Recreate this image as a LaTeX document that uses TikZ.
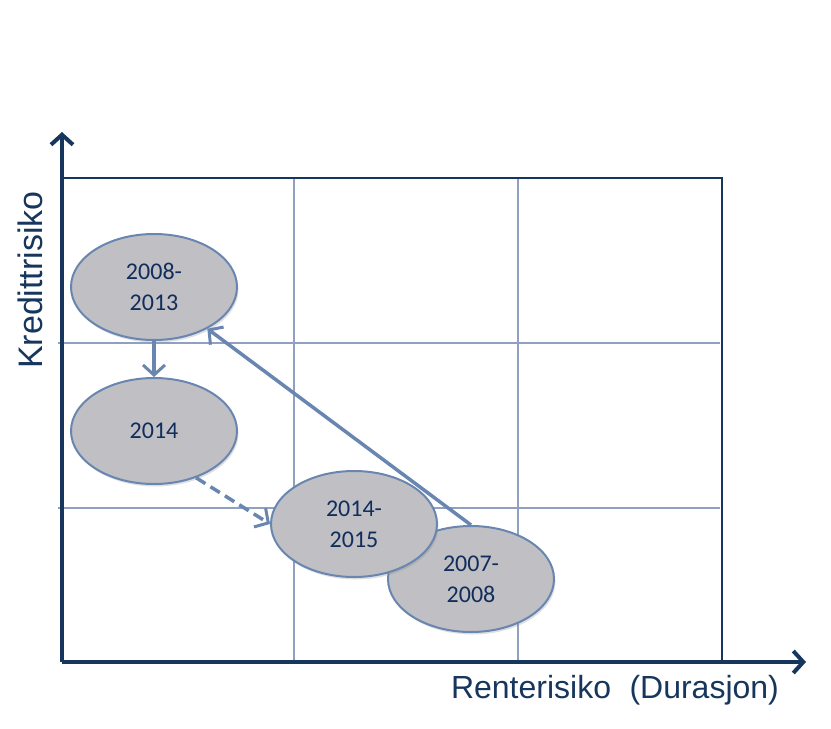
\documentclass[tikz,border=0pt]{standalone}
\usepackage{fontspec}
\setmainfont{Liberation Sans}
\newfontfamily\calfont{Carlito}
\usetikzlibrary{arrows.meta,shadows,shapes.geometric}
\definecolor{navy}{RGB}{23,54,93}
\definecolor{gridc}{RGB}{143,160,192}
\definecolor{ellb}{RGB}{104,134,176}
\definecolor{ellf}{RGB}{192,192,196}
\definecolor{txtc}{RGB}{16,45,92}
\tikzset{
  axis/.style={draw=navy, line width=4.5pt, -{Straight Barb[length=10pt,width=22pt,line width=4pt]}},
  frameline/.style={draw=navy, line width=2.2pt},
  gridline/.style={draw=gridc, line width=2pt},
  period/.style={ellipse, draw=ellb, fill=ellf, line width=2pt, minimum width=166pt, minimum height=106pt, inner sep=0pt,
     font=\calfont\fontsize{24}{31}\selectfont, text=txtc, align=center,
     drop shadow={shadow xshift=1.5pt, shadow yshift=-2.5pt, opacity=0.25, fill=gray}},
  conn/.style={draw=ellb, line width=3.5pt, -{Straight Barb[length=10pt,width=22pt,line width=3pt]}},
  axlabel/.style={text=navy}
}
\begin{document}
\begin{tikzpicture}[x=1pt,y=-1pt]
\useasboundingbox (0,0) rectangle (831,729);
% grid
\draw[gridline] (58,343) -- (720,343);
\draw[gridline] (58,508) -- (720,508);
\draw[gridline] (294,178) -- (294,662);
\draw[gridline] (518,178) -- (518,662);
\draw[frameline] (62,178) -- (722,178) -- (722,662);
% axes
\coordinate (O) at (62,662);
\coordinate (ytip) at (62,132);
\coordinate (xtip) at (806,662);
\draw[axis] (O) -- (ytip);
\draw[axis] (O) -- (xtip);
% labels
\node[axlabel, rotate=90, font=\fontsize{34}{38}\selectfont] (ylab) at (30,280) {Kredittrisiko};
\node[axlabel, font=\fontsize{32}{36}\selectfont] (xlab) at (615,690) {Renterisiko\hspace{0.3em} (Durasjon)};
% ellipses
\node[period] (e0708) at (471,579) {2007-\\2008};
\node[period] (e0813) at (154,287) {2008-\\2013};
\node[period] (e14) at (154,431) {2014};
\node[period] (e1415) at (354,524) {2014-\\2015};
% connectors
\draw[conn] (e0813.south) -- (e14.north);
\draw[conn, dash pattern=on 11pt off 6pt] (e14.-48) -- (e1415.west);
\draw[conn] (e0708.north) -- (e0813.-38);
\end{tikzpicture}
\end{document}
